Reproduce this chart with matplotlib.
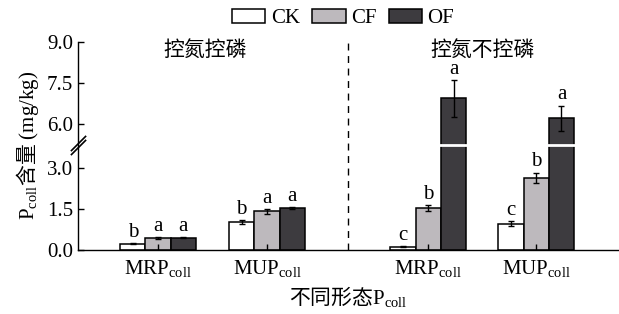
import numpy as np
import matplotlib
matplotlib.use('Agg')
import matplotlib.pyplot as plt
from matplotlib.transforms import ScaledTranslation

plt.rcParams['font.family'] = ['Liberation Serif', 'Noto Sans CJK SC']
plt.rcParams['mathtext.fontset'] = 'custom'
plt.rcParams['mathtext.rm'] = 'Liberation Serif'
plt.rcParams['mathtext.it'] = 'Liberation Serif:italic'

# data
groups = ['MRP$_{\\rm coll}$', 'MUP$_{\\rm coll}$', 'MRP$_{\\rm coll}$', 'MUP$_{\\rm coll}$']
treatments = ['CK', 'CF', 'OF']
ck = [0.22, 1.01, 0.10, 0.95]
cf = [0.42, 1.40, 1.51, 2.62]
of = [0.43, 1.52, 6.92, 6.20]
ck_err = [0.02, 0.07, 0.02, 0.09]
cf_err = [0.03, 0.08, 0.11, 0.19]
of_err = [0.02, 0.03, 0.67, 0.46]
ck_sig = ['b', 'b', 'c', 'c']
cf_sig = ['a', 'a', 'b', 'b']
of_sig = ['a', 'a', 'a', 'a']
panel_titles = ['控氮控磷', '控氮不控磷']

colors = ['#ffffff', '#bdb9bd', '#3d3b3f']
x = np.array([0, 1, 2.48, 3.47])
w = 0.232
cjk = 'Noto Sans CJK SC'

# broken y axis: 3.83..5.21 is cut out
lo, hi = 3.83, 5.21
gap = hi - lo
def fwd(v):
    v = np.asarray(v, dtype=float)
    return np.where(v <= lo, v, np.where(v >= hi, v - gap, lo))
def inv(u):
    u = np.asarray(u, dtype=float)
    return np.where(u <= lo, u, u + gap)

fig = plt.figure(figsize=(6.19, 3.14), dpi=100)
ax = fig.add_axes([0.126, 0.2054, 0.874, 0.6618])
ax.set_yscale('function', functions=(fwd, inv))

series = [(ck, ck_err, ck_sig), (cf, cf_err, cf_sig), (of, of_err, of_sig)]
for i, (vals, errs, sigs) in enumerate(series):
    xs = x + (i - 1) * w
    ax.bar(xs, vals, w, color=colors[i], edgecolor='black', linewidth=1.1,
           label=treatments[i], zorder=1)
    ax.errorbar(xs, vals, yerr=errs, fmt='none', ecolor='black',
                elinewidth=1.0, capsize=2.5, capthick=1.0, zorder=2)
    for xi, v, e, s in zip(xs, vals, errs, sigs):
        ax.annotate(s, (xi, v + e), xytext=(0, 1), textcoords='offset points',
                    ha='center', va='bottom', fontsize=15)

# white cut through tall bars
ax.axhline(lo, color='white', linewidth=2, zorder=1.5)

ax.axvline(1.743, color='black', linestyle=(0, (5, 4)), linewidth=1.0, zorder=3)

ax.set_xlim(-0.734, 4.23)
ax.set_ylim(0, 9.0)
ax.set_yticks([0, 1.5, 3.0, 6.0, 7.5, 9.0])
ax.set_yticklabels(['0.0', '1.5', '3.0', '6.0', '7.5', '9.0'])
ax.set_xticks(x)
ax.set_xticklabels(groups)
ax.tick_params(direction='in', labelsize=15, length=4, width=1)
ax.tick_params(axis='x', pad=6)
for s in ['top', 'right']:
    ax.spines[s].set_visible(False)
ax.spines['left'].set_linewidth(1.0)
ax.spines['bottom'].set_linewidth(1.0)

# break marks on the y axis
for dy in (-2.0, 2.0):
    tr = ax.get_yaxis_transform() + ScaledTranslation(0, dy / 100, fig.dpi_scale_trans)
    ax.plot([0], [fwd(lo)], marker=[(-1, -1), (1, 1)], markersize=11,
            markeredgewidth=1.2, color='black', transform=tr, clip_on=False,
            zorder=4)

ax.text(0.43, 8.7, panel_titles[0], ha='center', va='center', fontsize=15,
        family=[cjk])
ax.text(2.98, 8.7, panel_titles[1], ha='center', va='center', fontsize=15,
        family=[cjk])

ax.set_ylabel('$\\mathrm{P_{coll}}$含量$\\mathrm{\\ (mg/kg)}$', fontsize=15,
              labelpad=4, family=[cjk])
ax.set_xlabel('不同形态$\\mathrm{P_{coll}}$', fontsize=15, labelpad=4,
              family=[cjk])

ax.legend(loc='lower center', bbox_to_anchor=(0.49, 1.016), ncol=3, frameon=False,
          fontsize=15, handlelength=1.6, handleheight=0.67, handletextpad=0.25,
          columnspacing=0.6, borderpad=0)

fig.savefig('out.png', dpi=100)
